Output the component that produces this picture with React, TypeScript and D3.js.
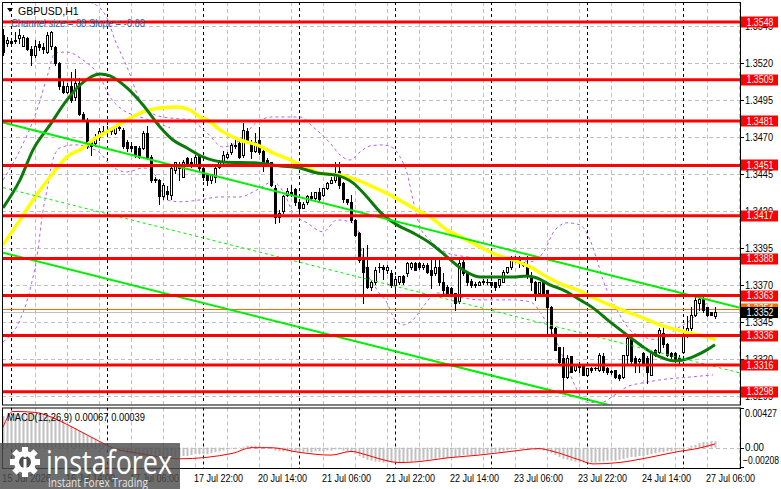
import React from "react";
import * as d3 from "d3";

// ---------- DATA ----------
const symbolTitle = "GBPUSD,H1";
const channelText = "Channel size = 88 Slope = -0.68";
const macdText = "MACD(12,26,9) 0.00067 0.00039";

const opens = [
  1.3539, 1.3534, 1.3535, 1.3535, 1.3537, 1.3532, 1.3537, 1.3530, 1.3526, 1.3533,
  1.3531, 1.3528, 1.3532, 1.3531, 1.3520, 1.3505, 1.3501, 1.3505, 1.3497, 1.3507,
  1.3486, 1.3482, 1.3468, 1.3466, 1.3470, 1.3474, 1.3474, 1.3474, 1.3473, 1.3476,
  1.3475, 1.3467, 1.3464, 1.3464, 1.3463, 1.3463, 1.3473, 1.3457, 1.3442, 1.3441,
  1.3430, 1.3434, 1.3431, 1.3448, 1.3450, 1.3443, 1.3456, 1.3453, 1.3451, 1.3458,
  1.3449, 1.3445, 1.3441, 1.3443, 1.3450, 1.3453, 1.3457, 1.3460, 1.3464, 1.3466,
  1.3458, 1.3474, 1.3467, 1.3461, 1.3468, 1.3461, 1.3455, 1.3453, 1.3436, 1.3416,
  1.3420, 1.3431, 1.3433, 1.3435, 1.3426, 1.3422, 1.3426, 1.3430, 1.3429, 1.3433,
  1.3431, 1.3436, 1.3439, 1.3441, 1.3447, 1.3439, 1.3428, 1.3426, 1.3414, 1.3405,
  1.3387, 1.3382, 1.3369, 1.3372, 1.3382, 1.3382, 1.3380, 1.3378, 1.3370, 1.3372,
  1.3376, 1.3378, 1.3382, 1.3385, 1.3385, 1.3382, 1.3384, 1.3380, 1.3378, 1.3382,
  1.3372, 1.3369, 1.3368, 1.3365, 1.3359, 1.3386, 1.3378, 1.3373, 1.3371, 1.3370,
  1.3372, 1.3372, 1.3372, 1.3372, 1.3370, 1.3372, 1.3379, 1.3382, 1.3389, 1.3388,
  1.3386, 1.3384, 1.3376, 1.3372, 1.3365, 1.3372, 1.3367, 1.3355, 1.3341, 1.3328,
  1.3321, 1.3308, 1.3322, 1.3313, 1.3316, 1.3316, 1.3309, 1.3314, 1.3314, 1.3313,
  1.3322, 1.3314, 1.3312, 1.3313, 1.3309, 1.3308, 1.3323, 1.3334, 1.3321, 1.3319,
  1.3324, 1.3321, 1.3309, 1.3326, 1.3325, 1.3338, 1.3330, 1.3324, 1.3324, 1.3321,
  1.3325, 1.3336, 1.3341, 1.3350, 1.3358, 1.3361, 1.3355, 1.3352, 1.3349,
];
const highs = [
  1.3543, 1.3538, 1.3537, 1.3541, 1.3543, 1.3539, 1.3538, 1.3532, 1.3536, 1.3535,
  1.3534, 1.3541, 1.3542, 1.3532, 1.3521, 1.3509, 1.3507, 1.3514, 1.3516, 1.3510,
  1.3487, 1.3483, 1.3468, 1.3472, 1.3476, 1.3478, 1.3478, 1.3477, 1.3478, 1.3478,
  1.3476, 1.3468, 1.3467, 1.3464, 1.3464, 1.3474, 1.3478, 1.3458, 1.3443, 1.3442,
  1.3439, 1.3437, 1.3451, 1.3453, 1.3453, 1.3455, 1.3457, 1.3456, 1.3458, 1.3459,
  1.3450, 1.3446, 1.3445, 1.3450, 1.3455, 1.3461, 1.3460, 1.3466, 1.3468, 1.3468,
  1.3480, 1.3476, 1.3468, 1.3473, 1.3477, 1.3463, 1.3456, 1.3453, 1.3438, 1.3421,
  1.3431, 1.3436, 1.3438, 1.3436, 1.3428, 1.3426, 1.3431, 1.3433, 1.3433, 1.3436,
  1.3436, 1.3440, 1.3443, 1.3453, 1.3453, 1.3440, 1.3428, 1.3431, 1.3415, 1.3406,
  1.3395, 1.3397, 1.3373, 1.3382, 1.3385, 1.3384, 1.3384, 1.3380, 1.3376, 1.3376,
  1.3377, 1.3386, 1.3386, 1.3386, 1.3386, 1.3385, 1.3385, 1.3389, 1.3389, 1.3387,
  1.3378, 1.3370, 1.3369, 1.3365, 1.3388, 1.3388, 1.3379, 1.3374, 1.3372, 1.3373,
  1.3374, 1.3374, 1.3372, 1.3372, 1.3374, 1.3380, 1.3382, 1.3390, 1.3390, 1.3390,
  1.3386, 1.3390, 1.3379, 1.3373, 1.3372, 1.3373, 1.3367, 1.3356, 1.3342, 1.3328,
  1.3328, 1.3323, 1.3322, 1.3317, 1.3318, 1.3317, 1.3314, 1.3315, 1.3315, 1.3324,
  1.3324, 1.3315, 1.3313, 1.3313, 1.3310, 1.3323, 1.3336, 1.3335, 1.3322, 1.3321,
  1.3325, 1.3322, 1.3325, 1.3327, 1.3341, 1.3343, 1.3331, 1.3325, 1.3325, 1.3323,
  1.3338, 1.3349, 1.3355, 1.3362, 1.3362, 1.3362, 1.3355, 1.3352, 1.3355,
];
const lows = [
  1.3526, 1.3532, 1.3532, 1.3534, 1.3534, 1.3532, 1.3529, 1.3519, 1.3524, 1.3529,
  1.3527, 1.3527, 1.3530, 1.3519, 1.3503, 1.3500, 1.3500, 1.3494, 1.3495, 1.3485,
  1.3481, 1.3463, 1.3458, 1.3464, 1.3468, 1.3472, 1.3472, 1.3472, 1.3472, 1.3475,
  1.3463, 1.3461, 1.3461, 1.3457, 1.3456, 1.3462, 1.3456, 1.3440, 1.3440, 1.3425,
  1.3428, 1.3428, 1.3428, 1.3446, 1.3441, 1.3443, 1.3451, 1.3450, 1.3451, 1.3448,
  1.3441, 1.3438, 1.3439, 1.3440, 1.3449, 1.3451, 1.3456, 1.3459, 1.3463, 1.3456,
  1.3457, 1.3466, 1.3456, 1.3460, 1.3459, 1.3447, 1.3451, 1.3437, 1.3412, 1.3413,
  1.3419, 1.3430, 1.3430, 1.3424, 1.3419, 1.3422, 1.3425, 1.3428, 1.3428, 1.3426,
  1.3430, 1.3435, 1.3439, 1.3440, 1.3436, 1.3426, 1.3425, 1.3413, 1.3403, 1.3386,
  1.3358, 1.3368, 1.3367, 1.3371, 1.3379, 1.3374, 1.3378, 1.3369, 1.3365, 1.3371,
  1.3371, 1.3376, 1.3381, 1.3380, 1.3381, 1.3381, 1.3378, 1.3368, 1.3377, 1.3370,
  1.3365, 1.3365, 1.3364, 1.3353, 1.3358, 1.3377, 1.3370, 1.3369, 1.3369, 1.3370,
  1.3371, 1.3371, 1.3369, 1.3367, 1.3369, 1.3372, 1.3378, 1.3381, 1.3386, 1.3382,
  1.3383, 1.3375, 1.3367, 1.3360, 1.3364, 1.3365, 1.3338, 1.3338, 1.3326, 1.3317,
  1.3297, 1.3307, 1.3311, 1.3312, 1.3311, 1.3309, 1.3309, 1.3311, 1.3313, 1.3312,
  1.3311, 1.3310, 1.3310, 1.3307, 1.3306, 1.3307, 1.3317, 1.3317, 1.3311, 1.3311,
  1.3317, 1.3304, 1.3309, 1.3322, 1.3324, 1.3328, 1.3322, 1.3321, 1.3318, 1.3316,
  1.3324, 1.3335, 1.3340, 1.3349, 1.3353, 1.3352, 1.3349, 1.3350, 1.3348,
];
const closes = [
  1.3528, 1.3536, 1.3534, 1.3536, 1.3539, 1.3538, 1.3530, 1.3526, 1.3532, 1.3531,
  1.3530, 1.3539, 1.3541, 1.3520, 1.3505, 1.3501, 1.3505, 1.3495, 1.3507, 1.3486,
  1.3482, 1.3464, 1.3464, 1.3470, 1.3474, 1.3473, 1.3474, 1.3475, 1.3477, 1.3477,
  1.3464, 1.3463, 1.3463, 1.3458, 1.3457, 1.3473, 1.3457, 1.3441, 1.3441, 1.3430,
  1.3438, 1.3432, 1.3449, 1.3453, 1.3449, 1.3453, 1.3451, 1.3452, 1.3457, 1.3449,
  1.3443, 1.3441, 1.3445, 1.3449, 1.3453, 1.3458, 1.3459, 1.3465, 1.3465, 1.3457,
  1.3475, 1.3467, 1.3461, 1.3467, 1.3460, 1.3453, 1.3451, 1.3438, 1.3416, 1.3419,
  1.3430, 1.3434, 1.3432, 1.3426, 1.3422, 1.3425, 1.3430, 1.3429, 1.3433, 1.3428,
  1.3436, 1.3439, 1.3441, 1.3446, 1.3438, 1.3428, 1.3426, 1.3414, 1.3404, 1.3387,
  1.3379, 1.3369, 1.3372, 1.3380, 1.3382, 1.3381, 1.3382, 1.3370, 1.3374, 1.3376,
  1.3372, 1.3385, 1.3385, 1.3380, 1.3382, 1.3384, 1.3379, 1.3377, 1.3382, 1.3372,
  1.3367, 1.3365, 1.3365, 1.3358, 1.3385, 1.3378, 1.3372, 1.3370, 1.3370, 1.3372,
  1.3373, 1.3372, 1.3370, 1.3369, 1.3374, 1.3379, 1.3382, 1.3388, 1.3387, 1.3385,
  1.3384, 1.3376, 1.3372, 1.3365, 1.3372, 1.3365, 1.3355, 1.3341, 1.3326, 1.3318,
  1.3308, 1.3321, 1.3311, 1.3316, 1.3315, 1.3309, 1.3314, 1.3313, 1.3314, 1.3323,
  1.3313, 1.3311, 1.3311, 1.3308, 1.3307, 1.3323, 1.3334, 1.3319, 1.3317, 1.3320,
  1.3317, 1.3311, 1.3324, 1.3323, 1.3340, 1.3330, 1.3323, 1.3322, 1.3319, 1.3320,
  1.3336, 1.3341, 1.3350, 1.3360, 1.3361, 1.3353, 1.3350, 1.3350, 1.3352,
];

// moving averages: [bar index, price]
const fastMa: [number, number][] = [
  [0, 1.34223], [4.25, 1.34412], [7.5, 1.34615], [11.75, 1.34784], [16, 1.34953],
  [19.25, 1.35054], [24.25, 1.35129], [26.75, 1.35115], [31, 1.35034], [35, 1.34919],
  [39.25, 1.3477], [42.5, 1.34682], [46, 1.34628], [50, 1.34568], [55, 1.34534],
  [63.5, 1.34527], [69.25, 1.34507], [74.25, 1.34493], [78.5, 1.34459], [83, 1.34446],
  [87.5, 1.34392], [91, 1.34297], [94.25, 1.34196], [98.5, 1.34108], [102.5, 1.34054],
  [106.75, 1.33986], [111, 1.33892], [115, 1.33804], [119.25, 1.33756], [123.5, 1.33756],
  [127.5, 1.33756], [131, 1.33763], [133.5, 1.33749], [136.75, 1.33702], [140.5, 1.33662],
  [144.25, 1.33601], [147.5, 1.33547], [151.75, 1.33452], [156, 1.33364], [160, 1.33283],
  [164.25, 1.33216], [167.5, 1.33189], [170, 1.33195], [172.5, 1.33216], [176, 1.33263],
  [178, 1.33297],
];
const slowMa: [number, number][] = [
  [0, 1.33973], [4.25, 1.34142], [7.5, 1.34277], [11.75, 1.34432], [16, 1.34568],
  [20, 1.34628], [22.5, 1.34682], [26.75, 1.3475], [31, 1.34818], [35, 1.34872],
  [39.25, 1.34899], [43.5, 1.34906], [46.75, 1.34885], [49.25, 1.34838], [51, 1.34818],
  [55, 1.34737], [59.25, 1.34682], [63.5, 1.34649], [67.5, 1.34595], [71.75, 1.34547],
  [76, 1.34493], [80, 1.34453], [84.25, 1.34446], [88.5, 1.34412], [92.5, 1.34365],
  [96.75, 1.34311], [102.5, 1.34223], [106.75, 1.34162], [111, 1.34074], [115, 1.3402],
  [119.25, 1.33959], [123.5, 1.33905], [127.5, 1.33871], [131.75, 1.33824], [136, 1.33756],
  [140, 1.33702], [144.25, 1.33662], [147.5, 1.33615], [151.75, 1.33567], [156, 1.3352],
  [160, 1.3348], [164.25, 1.33432], [168.5, 1.33398], [172.5, 1.33371], [176, 1.33351],
  [178.25, 1.33331],
];

// bands (dashed violet)
const bandUpper: [number, number][] = [
  [16.75, 1.35697], [19.25, 1.35629], [22.25, 1.35609], [24.25, 1.35575], [26, 1.35507],
  [28, 1.35359], [31, 1.35176], [34.25, 1.34953], [38, 1.34852], [41.75, 1.34831],
  [46.75, 1.34818], [51, 1.3473], [55, 1.34635], [59.25, 1.34682], [63.5, 1.34804],
  [67.5, 1.34838], [74.25, 1.34838], [77.5, 1.3477], [81.75, 1.34662], [84.25, 1.34581],
  [86.75, 1.34547], [89.25, 1.34601], [91.75, 1.34642], [95, 1.34649], [97.5, 1.34628],
  [99.25, 1.34568], [101, 1.34459], [102.5, 1.34277], [104.25, 1.34094], [106.75, 1.34007],
  [111, 1.33919], [116, 1.33892], [123.5, 1.33871], [127.5, 1.33892], [131.75, 1.33858],
  [135.5, 1.33939], [137.5, 1.34054], [141, 1.34122], [144.25, 1.34108], [146.75, 1.34007],
  [148.5, 1.33871], [150, 1.33736], [153.5, 1.33533], [156.75, 1.33398], [160, 1.33351],
  [164.25, 1.33331], [168, 1.33398], [172.5, 1.33479], [177.5, 1.33635],
];
const bandInner: [number, number][] = [
  [0, 1.34412], [4.25, 1.34615], [8.5, 1.34885], [11, 1.35108], [13, 1.35271],
  [16, 1.35277], [20, 1.35223], [24.25, 1.35108], [26.75, 1.34973], [30, 1.34885],
  [34.25, 1.34838], [38.5, 1.34798], [41.75, 1.34764],
];
const bandLower: [number, number][] = [
  [0, 1.33317], [4.25, 1.33466], [6.75, 1.33669], [8.75, 1.33939], [9.75, 1.34162],
  [11, 1.34345], [12.25, 1.34527], [14.25, 1.34629], [18, 1.34649], [21.75, 1.34629],
  [24.25, 1.34595], [26.75, 1.34514], [31, 1.34466], [35, 1.34493], [38, 1.34446],
  [41, 1.34277], [44.25, 1.34264], [49.25, 1.34277], [54.25, 1.34297], [59.25, 1.34297],
  [63.5, 1.34345], [67.5, 1.34399], [70.5, 1.34311], [72.5, 1.34189], [76, 1.34122],
  [80, 1.34061], [83.5, 1.34142], [86.75, 1.34128], [88.5, 1.34094], [90, 1.33871],
  [93.5, 1.33669], [96, 1.33581], [98, 1.33466], [100, 1.33432], [102.5, 1.33466],
  [105, 1.33554], [108.5, 1.33648], [111.75, 1.33635], [115, 1.33615], [119.25, 1.33601],
  [127.5, 1.33601], [131.75, 1.33588], [135.5, 1.33466], [138.5, 1.3331], [141, 1.33148],
  [143.5, 1.32993], [145.5, 1.32911], [149.25, 1.32905], [153, 1.32959], [156, 1.33013],
  [160, 1.3304], [164.25, 1.3306], [172.5, 1.33081], [177.5, 1.33094],
];

// regression channel
const channelTop = 1.3480; // upper line at first bar
const channelSlope = -0.000068; // per bar
const channelSize = 0.0088;

// support / resistance levels
const levels = [1.3548, 1.3509, 1.3481, 1.3451, 1.3417, 1.3388, 1.3363, 1.3336, 1.3316, 1.3298];
const priceTicks = [1.3545, 1.352, 1.3495, 1.347, 1.3445, 1.342, 1.3395, 1.337, 1.3345, 1.332, 1.3295];
const bidPrice = 1.3352;
const askPrice = 1.3354;

// time axis
const timeLabels = [
  "15 Jul 2026", "16 Jul 14:00", "17 Jul 06:00", "17 Jul 22:00", "20 Jul 14:00", "21 Jul 06:00",
  "21 Jul 22:00", "22 Jul 14:00", "23 Jul 06:00", "23 Jul 22:00", "24 Jul 14:00", "27 Jul 06:00",
];
const timeLabelBars = [0, 16, 32, 48, 64, 80, 96, 112, 128, 144, 160, 176];
const daySeparatorBars = [2, 26, 50, 74, 98, 122, 146, 170];

// MACD
const macdMain = [
  0.0034, 0.0035, 0.0035, 0.0036, 0.0036, 0.0036, 0.0036, 0.0036, 0.0035, 0.0035,
  0.0035, 0.0035, 0.0034, 0.0032, 0.003, 0.0028, 0.0025, 0.0023, 0.0021, 0.0018,
  0.0016, 0.0013, 0.0011, 0.0009, 0.0007, 0.0005, 0.0002, 0.0, -0.0002, -0.0003,
  -0.0004, -0.0006, -0.0007, -0.0008, -0.0009, -0.0009, -0.001, -0.0011, -0.0011, -0.0012,
  -0.0012, -0.0012, -0.0011, -0.001, -0.001, -0.0009, -0.0009, -0.0008, -0.0007, -0.0007,
  -0.0007, -0.0007, -0.0006, -0.0005, -0.0004, -0.0003, -0.0002, -0.0001, 0.0, 0.0,
  0.0001, 0.0002, 0.0002, 0.0002, 0.0002, 0.0001, 0.0, -0.0001, -0.0003, -0.0004,
  -0.0004, -0.0004, -0.0004, -0.0004, -0.0005, -0.0005, -0.0005, -0.0005, -0.0004, -0.0004,
  -0.0004, -0.0003, -0.0003, -0.0002, -0.0002, -0.0003, -0.0004, -0.0005, -0.0007, -0.0009,
  -0.0011, -0.0013, -0.0014, -0.0015, -0.0015, -0.0016, -0.0016, -0.0016, -0.0016, -0.0016,
  -0.0016, -0.0015, -0.0015, -0.0014, -0.0014, -0.0013, -0.0013, -0.0012, -0.0012, -0.0011,
  -0.0011, -0.0011, -0.001, -0.001, -0.0009, -0.0008, -0.0008, -0.0008, -0.0008, -0.0007,
  -0.0007, -0.0006, -0.0006, -0.0005, -0.0005, -0.0004, -0.0003, -0.0002, -0.0001, -0.0001,
  -0.0001, -0.0001, -0.0001, -0.0002, -0.0002, -0.0003, -0.0004, -0.0006, -0.0008, -0.001,
  -0.0012, -0.0013, -0.0014, -0.0015, -0.0016, -0.0016, -0.0016, -0.0016, -0.0016, -0.0015,
  -0.0015, -0.0014, -0.0014, -0.0014, -0.0013, -0.0012, -0.0011, -0.001, -0.001, -0.0009,
  -0.0009, -0.0008, -0.0007, -0.0006, -0.0005, -0.0005, -0.0004, -0.0004, -0.0003, -0.0002,
  -0.0001, 0.0, 0.0002, 0.0003, 0.0005, 0.0006, 0.0006, 0.0007, 0.0007,
];
const macdSignal: [number, number][] = [
  [0, 0.0022], [2.5, 0.0039], [8, 0.0038], [12, 0.0033], [16, 0.0025], [20, 0.0016],
  [24, 0.0007], [28.5, -0.0002], [32.5, -0.0005], [41, -0.0011], [44, -0.0012],
  [57.5, -0.0006], [62, 0.0], [67, 0.0], [74, -0.0005], [82, -0.0008], [87, -0.0004],
  [91, -0.0008], [95, -0.0013], [99, -0.0016], [104, -0.0015], [111, -0.0011],
  [119, -0.0008], [127, -0.0004], [134, -0.0001], [137.5, -0.0004], [144, -0.0013],
  [147.5, -0.00175], [154, -0.0016], [161, -0.0011], [169, -0.0004], [173.5, -0.0001],
  [178, 0.0004],
];
const macdTicks = [0.00427, 0, -0.00208];

// ---------- CHART ----------
const FONT = "'Liberation Sans', Arial, sans-serif";
const L = 2, R = 740, MT = 2, MB = 404.5, ST = 407.5, SB = 468;

export default function App() {
  const x = d3.scaleLinear().domain([0, 184.25]).range([3, 740]);
  const y = d3.scaleLinear().domain([1.3298, 1.3548]).range([391.7, 22]);
  const ym = d3.scaleLinear().domain([-0.00208, 0.00427]).range([467, 408]);

  const line = d3
    .line<[number, number]>()
    .x((d) => x(d[0]))
    .y((d) => y(d[1]))
    .curve(d3.curveMonotoneX);
  const sigLine = d3
    .line<[number, number]>()
    .x((d) => x(d[0]))
    .y((d) => ym(d[1]))
    .curve(d3.curveMonotoneX);

  const fmt4 = d3.format(".4f");
  const lastBar = 184.25;
  const chan = (off: number): [number, number][] => [
    [0, channelTop - off],
    [lastBar, channelTop - off + channelSlope * lastBar],
  ];
  const chanLine = d3.line<[number, number]>().x((d) => x(d[0])).y((d) => y(d[1]));

  const gridBars = d3.range(8, 185, 8);
  const px = (v: number) => Math.round(v) + 0.5;

  return (
    <svg
      width={781}
      height={489}
      style={{ position: "absolute", left: 0, top: 0, background: "#fff", fontFamily: FONT }}
    >
      <defs>
        <clipPath id="mainClip">
          <rect x={L} y={MT} width={R - L} height={MB - MT} />
        </clipPath>
        <clipPath id="subClip">
          <rect x={L} y={ST} width={R - L} height={SB - ST} />
        </clipPath>
      </defs>
      <rect x={0} y={0} width={781} height={489} fill="#fff" />

      {/* grid main */}
      <g clipPath="url(#mainClip)">
        {priceTicks.map((p) => (
          <line key={p} x1={L} x2={R} y1={px(y(p))} y2={px(y(p))} stroke="#c0c0c0" strokeDasharray="4,3" />
        ))}
        {gridBars.map((b) => (
          <line key={b} x1={px(x(b))} x2={px(x(b))} y1={MT} y2={MB} stroke="#c0c0c0" strokeDasharray="4,3" />
        ))}
        {daySeparatorBars.map((b) => (
          <line key={b} x1={px(x(b))} x2={px(x(b))} y1={MT} y2={MB} stroke="#000" strokeDasharray="3,3" />
        ))}
      </g>
      {/* grid sub */}
      <g clipPath="url(#subClip)">
        <line x1={L} x2={R} y1={px(ym(0))} y2={px(ym(0))} stroke="#c0c0c0" strokeDasharray="4,3" />
        {gridBars.map((b) => (
          <line key={b} x1={px(x(b))} x2={px(x(b))} y1={ST} y2={SB} stroke="#c0c0c0" strokeDasharray="4,3" />
        ))}
        {daySeparatorBars.map((b) => (
          <line key={b} x1={px(x(b))} x2={px(x(b))} y1={ST} y2={SB} stroke="#000" strokeDasharray="3,3" />
        ))}
      </g>

      <g clipPath="url(#mainClip)">
        {/* bands */}
        {[bandUpper, bandInner, bandLower].map((b, k) => (
          <path key={k} d={line(b) || ""} fill="none" stroke="#b760e6" strokeWidth={1} strokeDasharray="3,3" />
        ))}
        {/* bid / ask */}
        <line x1={L} x2={R} y1={px(y(bidPrice))} y2={px(y(bidPrice))} stroke="#c0c0c0" />
        <line x1={L} x2={R} y1={px(y(askPrice))} y2={px(y(askPrice))} stroke="#ff6a00" />

        {/* candles */}
        {opens.map((o, i) => {
          const c = closes[i];
          const cx = px(x(i));
          const yh = Math.round(y(highs[i]));
          const yl = Math.round(y(lows[i]));
          const top = Math.round(y(Math.max(o, c)));
          const bot = Math.round(y(Math.min(o, c)));
          const bull = c > o;
          return (
            <g key={i}>
              <line x1={cx} x2={cx} y1={yh} y2={yl + 1} stroke="#000" />
              {bot - top < 1 ? (
                <line x1={cx - 1.5} x2={cx + 2.5} y1={top + 0.5} y2={top + 0.5} stroke="#000" />
              ) : bull ? (
                <rect x={cx - 1} y={top + 0.5} width={2} height={bot - top} fill="#fff" stroke="#000" />
              ) : (
                <rect x={cx - 1.5} y={top} width={3} height={bot - top + 1} fill="#000" />
              )}
            </g>
          );
        })}

        {/* moving averages */}
        <path d={line(slowMa) || ""} fill="none" stroke="#ffff00" strokeWidth={3.5} />
        <path d={line(fastMa) || ""} fill="none" stroke="#0b7a0b" strokeWidth={3} />

        {/* channel */}
        <path d={chanLine(chan(0)) || ""} stroke="#00f000" strokeWidth={2} fill="none" />
        <path d={chanLine(chan(channelSize / 2)) || ""} stroke="#00f000" strokeWidth={1} strokeDasharray="3,3" fill="none" />
        <path d={chanLine(chan(channelSize)) || ""} stroke="#00f000" strokeWidth={2} fill="none" />

        {/* levels */}
        {levels.map((lv) => (
          <line key={lv} x1={L} x2={R} y1={y(lv)} y2={y(lv)} stroke="#ff0000" strokeWidth={3} />
        ))}
      </g>

      {/* MACD */}
      <g clipPath="url(#subClip)">
        {macdMain.map((v, i) => {
          const y0 = ym(0);
          const y1 = ym(v);
          return (
            <rect
              key={i}
              x={Math.round(x(i)) - 0.5}
              y={Math.min(y0, y1)}
              width={2}
              height={Math.max(0.5, Math.abs(y1 - y0))}
              fill="#c0c0c0"
            />
          );
        })}
        <path d={sigLine(macdSignal) || ""} fill="none" stroke="#ff0000" strokeWidth={1} />
      </g>

      {/* frames */}
      <rect x={L + 0.5} y={MT + 0.5} width={R - L} height={MB - MT} fill="none" stroke="#000" />
      <rect x={L + 0.5} y={ST + 0.5} width={R - L} height={SB - ST} fill="none" stroke="#000" />

      {/* texts in chart */}
      <path d="M7,8 L13,8 L10,12 Z" fill="#000" />
      <text x={18} y={14.5} fontSize={10.5} fill="#000">{symbolTitle}</text>
      <text x={11} y={26.5} fontSize={10.5} fill="#2a64a8" textLength={134} lengthAdjust="spacingAndGlyphs">
        {channelText}
      </text>
      <text x={7} y={421} fontSize={10} fill="#000" textLength={138} lengthAdjust="spacingAndGlyphs">
        {macdText}
      </text>

      {/* price axis */}
      {priceTicks.map((p) => (
        <g key={p}>
          <line x1={R} x2={R + 4} y1={px(y(p))} y2={px(y(p))} stroke="#000" />
          <text x={745} y={y(p)} dy="0.35em" fontSize={10} fill="#000" textLength={28} lengthAdjust="spacingAndGlyphs">{fmt4(p)}</text>
        </g>
      ))}
      {levels.map((lv) => (
        <g key={lv}>
          <rect x={741} y={Math.round(y(lv)) - 5.5} width={37} height={11} fill="#ff0000" />
          <text x={746.5} y={y(lv)} dy="0.35em" fontSize={10} fill="#fff" textLength={27} lengthAdjust="spacingAndGlyphs">{fmt4(lv)}</text>
        </g>
      ))}
      <rect x={741} y={Math.round(y(askPrice)) - 5.5} width={37} height={11} fill="#ff6a00" />
      <text x={746.5} y={y(askPrice)} dy="0.35em" fontSize={10} fill="#fff" textLength={27} lengthAdjust="spacingAndGlyphs">{fmt4(askPrice)}</text>
      <rect x={741} y={Math.round(y(bidPrice)) - 5} width={37} height={11} fill="#000" />
      <text x={746.5} y={y(bidPrice) + 0.5} dy="0.35em" fontSize={10} fill="#fff" textLength={27} lengthAdjust="spacingAndGlyphs">{fmt4(bidPrice)}</text>

      {/* MACD axis */}
      {macdTicks.map((v, k) => {
        const yy = k === 0 ? ym(v) + 5 : k === 2 ? ym(v) - 7 : ym(v);
        const label = v === 0 ? "0.00" : d3.format(".5f")(v);
        const len = v === 0 ? 19 : v < 0 ? 36 : 32;
        return (
          <g key={k}>
            <line x1={R} x2={R + 4} y1={px(ym(v))} y2={px(ym(v))} stroke="#000" />
            <text x={v < 0 ? 743 : 745} y={yy} dy="0.35em" fontSize={10} fill="#000" textLength={len} lengthAdjust="spacingAndGlyphs">
              {label}
            </text>
          </g>
        );
      })}

      {/* time axis */}
      {timeLabels.map((t, k) => (
        <text key={t} x={x(timeLabelBars[k]) - 1} y={481.5} fontSize={10} fill="#000" textLength={49} lengthAdjust="spacingAndGlyphs">
          {t}
        </text>
      ))}

      {/* watermark */}
      <g>
        <rect x={0} y={443} width={180} height={46} fill="#4d4d4d" opacity={0.82} />
        <g transform="translate(25,462)" fill="#fff">
          {d3.range(8).map((k) => (
            <rect key={k} x={-3} y={-15} width={6} height={7} transform={`rotate(${k * 45})`} />
          ))}
          <circle r={11} />
          <circle r={6} fill="#4d4d4d" />
          <rect x={-1.5} y={-3} width={3} height={9} />
          <circle cy={-6} r={1.8} />
        </g>
        <text x={46} y={474} fontSize={33} fill="#fff" fontFamily="'Open Sans', sans-serif" textLength={126} lengthAdjust="spacingAndGlyphs">
          instaforex
        </text>
        <text x={48} y={487} fontSize={12} fill="#e6e6e6" fontFamily="'Open Sans', sans-serif" textLength={100} lengthAdjust="spacingAndGlyphs">
          Instant Forex Trading
        </text>
      </g>
    </svg>
  );
}
